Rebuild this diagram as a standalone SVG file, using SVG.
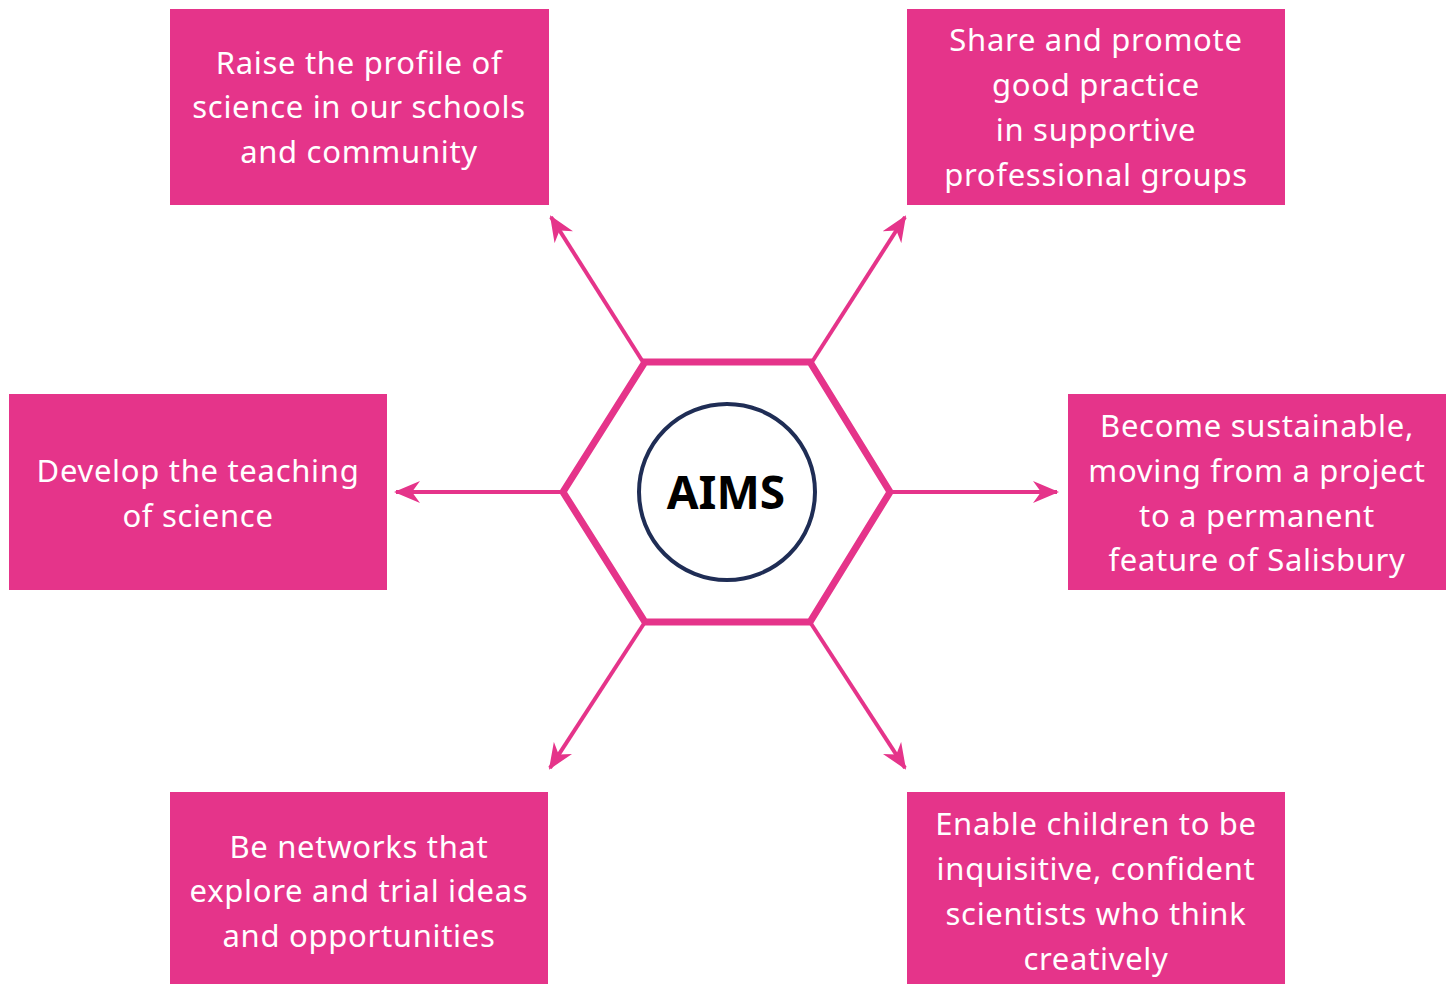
<svg xmlns="http://www.w3.org/2000/svg" width="1454" height="985" viewBox="0 0 1454 985">
<style>
.box{fill:#e5348a}
.t{font-family:"Noto Sans","Open Sans","DejaVu Sans",sans-serif;font-size:31px;letter-spacing:0.7px;fill:#ffffff;text-anchor:middle}
.c{stroke:#e5348a;stroke-width:4;fill:none;marker-end:url(#ah)}
.aims{font-family:"Noto Sans","Open Sans",sans-serif;font-size:46px;font-weight:bold;fill:#000000;text-anchor:middle}
</style>
<defs>
<marker id="ah" viewBox="0 0 26 22" refX="24" refY="11" markerWidth="26" markerHeight="22" markerUnits="userSpaceOnUse" orient="auto">
<path d="M0,0 L26,11 L0,22 L8,11 z" fill="#e5348a"/>
</marker>
</defs>
<rect width="1454" height="985" fill="#ffffff"/>
<g id="connectors">
<line class="c" x1="643" y1="362" x2="551" y2="217"/>
<line class="c" x1="812" y1="362" x2="905" y2="217"/>
<line class="c" x1="563" y1="492" x2="396" y2="492"/>
<line class="c" x1="890" y1="492" x2="1057" y2="492"/>
<line class="c" x1="645" y1="622" x2="550" y2="768"/>
<line class="c" x1="810" y1="622" x2="905" y2="768"/>
</g>
<g id="hub">
<polygon points="645,362 810,362 890,492 810,622 645,622 563,492" fill="none" stroke="#e5348a" stroke-width="7" stroke-linejoin="miter"/>
<circle cx="727" cy="492" r="88" fill="#ffffff" stroke="#1f2d55" stroke-width="4"/>
<text class="aims" x="726" y="509">AIMS</text>
</g>
<g id="n1">
<rect class="box" x="170" y="9" width="379" height="196"/>
<text class="t"><tspan x="359" y="74">Raise the profile of</tspan><tspan x="359" y="118">science in our schools</tspan><tspan x="359" y="163">and community</tspan></text>
</g>
<g id="n2">
<rect class="box" x="907" y="9" width="378" height="196"/>
<text class="t"><tspan x="1096" y="51">Share and promote</tspan><tspan x="1096" y="96">good practice</tspan><tspan x="1096" y="141">in supportive</tspan><tspan x="1096" y="186">professional groups</tspan></text>
</g>
<g id="n3">
<rect class="box" x="9" y="394" width="378" height="196"/>
<text class="t"><tspan x="198" y="482">Develop the teaching</tspan><tspan x="198" y="527">of science</tspan></text>
</g>
<g id="n4">
<rect class="box" x="1068" y="394" width="378" height="196"/>
<text class="t"><tspan x="1257" y="437">Become sustainable,</tspan><tspan x="1257" y="482">moving from a project</tspan><tspan x="1257" y="527">to a permanent</tspan><tspan x="1257" y="571">feature of Salisbury</tspan></text>
</g>
<g id="n5">
<rect class="box" x="170" y="792" width="378" height="192"/>
<text class="t"><tspan x="359" y="858">Be networks that</tspan><tspan x="359" y="902">explore and trial ideas</tspan><tspan x="359" y="947">and opportunities</tspan></text>
</g>
<g id="n6">
<rect class="box" x="907" y="792" width="378" height="192"/>
<text class="t"><tspan x="1096" y="835">Enable children to be</tspan><tspan x="1096" y="880">inquisitive, confident</tspan><tspan x="1096" y="925">scientists who think</tspan><tspan x="1096" y="970">creatively</tspan></text>
</g>
</svg>
